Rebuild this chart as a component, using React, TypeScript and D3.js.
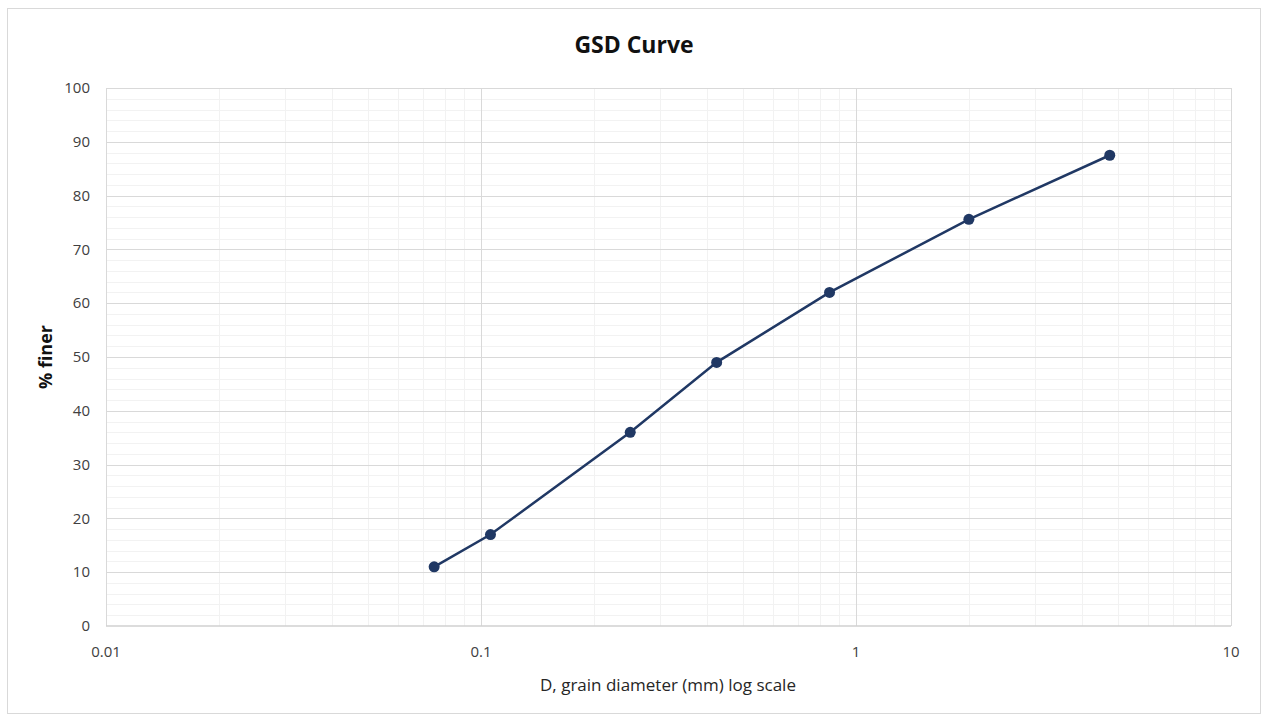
import React, { useEffect, useRef } from "react";
import * as d3 from "d3";

const diameters = [0.075, 0.106, 0.25, 0.425, 0.85, 2.0, 4.75];
const percentFiner = [11, 17, 36, 49, 62, 75.6, 87.5];
const xTicks = [0.01, 0.1, 1, 10];
const yTicks = [0, 10, 20, 30, 40, 50, 60, 70, 80, 90, 100];

const W = 1263, H = 718;
const M = { left: 106, right: 1231, top: 88, bottom: 626 };
const FONT = "'Open Sans', 'Liberation Sans', sans-serif";

export default function App() {
  const ref = useRef<SVGSVGElement>(null);
  useEffect(() => {
    const svg = d3.select(ref.current);
    svg.selectAll("*").remove();
    const x = d3.scaleLog().domain([0.01, 10]).range([M.left, M.right]);
    const y = d3.scaleLinear().domain([0, 100]).range([M.bottom, M.top]);

    svg.append("rect").attr("x", 0).attr("y", 0).attr("width", W).attr("height", H).attr("fill", "#fff");
    svg.append("rect").attr("x", 7.5).attr("y", 8.5).attr("width", 1253).attr("height", 705)
      .attr("fill", "#fff").attr("stroke", "#d9d9d9").attr("stroke-width", 1);

    const g = svg.append("g");
    const yMinor = d3.range(0, 101, 2).filter((v) => v % 10 !== 0);
    g.selectAll(".hy").data(yMinor).enter().append("line")
      .attr("x1", M.left).attr("x2", M.right)
      .attr("y1", (d) => Math.round(y(d)) + 0.5).attr("y2", (d) => Math.round(y(d)) + 0.5)
      .attr("stroke", "#f2f2f2").attr("stroke-width", 1);
    const xMinor: number[] = [];
    [0.01, 0.1, 1].forEach((dec) => { for (let k = 2; k <= 9; k++) xMinor.push(dec * k); });
    g.selectAll(".vx").data(xMinor).enter().append("line")
      .attr("y1", M.top).attr("y2", M.bottom)
      .attr("x1", (d) => Math.round(x(d)) + 0.5).attr("x2", (d) => Math.round(x(d)) + 0.5)
      .attr("stroke", "#f2f2f2").attr("stroke-width", 1);
    g.selectAll(".hY").data(yTicks.filter((v) => v > 0)).enter().append("line")
      .attr("x1", M.left).attr("x2", M.right)
      .attr("y1", (d) => Math.round(y(d)) + 0.5).attr("y2", (d) => Math.round(y(d)) + 0.5)
      .attr("stroke", "#d9d9d9").attr("stroke-width", 1);
    g.selectAll(".vX").data(xTicks).enter().append("line")
      .attr("y1", M.top).attr("y2", M.bottom)
      .attr("x1", (d) => Math.round(x(d)) + 0.5).attr("x2", (d) => Math.round(x(d)) + 0.5)
      .attr("stroke", "#d9d9d9").attr("stroke-width", 1);
    g.append("line").attr("x1", M.left).attr("x2", M.right)
      .attr("y1", M.bottom).attr("y2", M.bottom).attr("stroke", "#d0d0d0").attr("stroke-width", 1.5);

    g.selectAll(".yl").data(yTicks).enter().append("text")
      .attr("x", 90).attr("y", (d) => y(d)).attr("dy", "0.35em")
      .attr("text-anchor", "end").attr("font-family", FONT).attr("font-size", 15)
      .attr("fill", "#404040").text((d) => String(d));
    g.selectAll(".xl").data(xTicks).enter().append("text")
      .attr("x", (d) => x(d)).attr("y", 657)
      .attr("text-anchor", "middle").attr("font-family", FONT).attr("font-size", 15)
      .attr("fill", "#404040").text((d) => String(d));

    svg.append("text").attr("x", 634).attr("y", 53).attr("text-anchor", "middle")
      .attr("font-family", FONT).attr("font-size", 23).attr("font-weight", "bold")
      .attr("fill", "#111").text("GSD Curve");
    svg.append("text").attr("x", 668).attr("y", 691).attr("text-anchor", "middle")
      .attr("font-family", FONT).attr("font-size", 17).attr("fill", "#262626")
      .text("D, grain diameter (mm) log scale");
    svg.append("text").attr("transform", "translate(52,357) rotate(-90)").attr("text-anchor", "middle")
      .attr("font-family", FONT).attr("font-size", 18).attr("font-weight", "bold")
      .attr("fill", "#111").text("% finer");

    const pts = diameters.map((d, i) => [d, percentFiner[i]] as [number, number]);
    const line = d3.line<[number, number]>().x((d) => x(d[0])).y((d) => y(d[1]));
    svg.append("path").attr("d", line(pts)).attr("fill", "none")
      .attr("stroke", "#203864").attr("stroke-width", 2.5);
    svg.selectAll(".pt").data(pts).enter().append("circle")
      .attr("cx", (d) => x(d[0])).attr("cy", (d) => y(d[1])).attr("r", 5.5)
      .attr("fill", "#203864");
  }, []);
  return (
    <svg ref={ref} width={W} height={H}
      style={{ position: "absolute", left: 0, top: 0, display: "block" }} />
  );
}
